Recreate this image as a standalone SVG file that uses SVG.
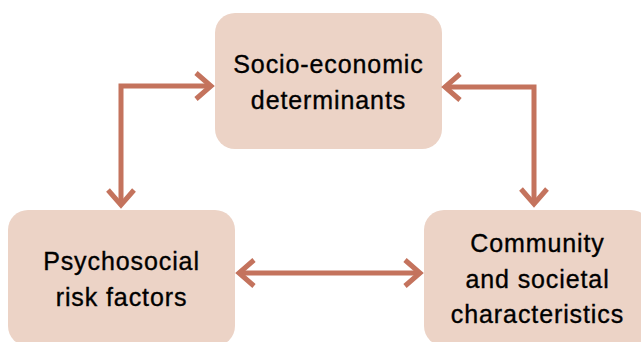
<svg xmlns="http://www.w3.org/2000/svg" width="641" height="342" viewBox="0 0 641 342">
  <style>
    .box { fill: #ECD3C6; }
    .lbl { font-family: "Liberation Sans", Arial, sans-serif; font-size: 25px; letter-spacing: 0.9px; fill: #000; stroke: #000; stroke-width: 0.35px; text-anchor: middle; }
    .conn { fill: none; stroke: #C4735D; stroke-width: 5; }
  </style>
  <defs>
    <marker id="chev" markerUnits="userSpaceOnUse" viewBox="-20 -16 24 32" refX="0" refY="0" markerWidth="24" markerHeight="32" orient="auto-start-reverse" overflow="visible">
      <path d="M -15 -13 L 0 0 L -15 13" fill="none" stroke="#C4735D" stroke-width="5"/>
    </marker>
  </defs>
  <rect width="641" height="342" fill="#fff"/>
  <g id="socio-economic">
    <rect class="box" x="215" y="13" width="227" height="136" rx="20"/>
    <text class="lbl" x="328.5" y="73">Socio-economic</text>
    <text class="lbl" x="328.5" y="109">determinants</text>
  </g>
  <g id="psychosocial">
    <rect class="box" x="8" y="210" width="227" height="136" rx="20"/>
    <text class="lbl" x="121.5" y="270">Psychosocial</text>
    <text class="lbl" x="121.5" y="306">risk factors</text>
  </g>
  <g id="community">
    <rect class="box" x="424" y="210" width="227" height="136" rx="20"/>
    <text class="lbl" x="537.5" y="252">Community</text>
    <text class="lbl" x="537.5" y="288">and societal</text>
    <text class="lbl" x="537.5" y="323">characteristics</text>
  </g>
  <g id="connectors">
    <path class="conn" d="M 211 86 H 121 V 205" marker-start="url(#chev)" marker-end="url(#chev)"/>
    <path class="conn" d="M 445 87 H 534 V 204" marker-start="url(#chev)" marker-end="url(#chev)"/>
    <path class="conn" d="M 239 273 H 420" marker-start="url(#chev)" marker-end="url(#chev)"/>
  </g>
</svg>
